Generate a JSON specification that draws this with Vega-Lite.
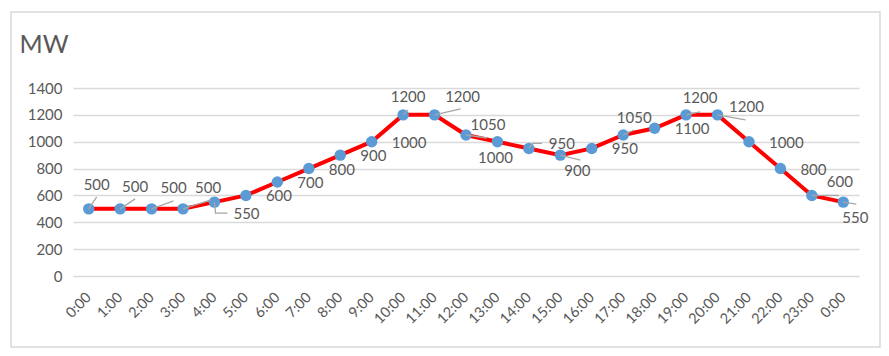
{
  "$schema": "https://vega.github.io/schema/vega-lite/v6.json",
  "width": 869,
  "height": 335,
  "autosize": "none",
  "padding": {"left": 11, "top": 12, "right": 9, "bottom": 9},
  "background": "white",
  "config": {
    "view": {"stroke": "#d9d9d9", "strokeWidth": 1.5},
    "font": "Lato",
    "text": {"font": "Lato", "fontSize": 15, "color": "#595959", "baseline": "middle", "align": "center"}
  },
  "data": {
    "values": [
      {"i": 0, "v": 500}, {"i": 1, "v": 500}, {"i": 2, "v": 500}, {"i": 3, "v": 500},
      {"i": 4, "v": 550}, {"i": 5, "v": 600}, {"i": 6, "v": 700}, {"i": 7, "v": 800},
      {"i": 8, "v": 900}, {"i": 9, "v": 1000}, {"i": 10, "v": 1200}, {"i": 11, "v": 1200},
      {"i": 12, "v": 1050}, {"i": 13, "v": 1000}, {"i": 14, "v": 950}, {"i": 15, "v": 900},
      {"i": 16, "v": 950}, {"i": 17, "v": 1050}, {"i": 18, "v": 1100}, {"i": 19, "v": 1200},
      {"i": 20, "v": 1200}, {"i": 21, "v": 1000}, {"i": 22, "v": 800}, {"i": 23, "v": 600},
      {"i": 24, "v": 550}
    ]
  },
  "encoding": {
    "x": {
      "field": "i", "type": "ordinal",
      "scale": {"type": "point", "range": [62, 848], "padding": 0.5},
      "axis": {
        "title": null, "labelAngle": -45, "labelAlign": "right", "labelBaseline": "middle",
        "labelFontSize": 14.5, "labelColor": "#595959", "labelFont": "Lato",
        "labelExpr": "(datum.value % 24) + ':00'",
        "offset": -71, "domain": false, "ticks": false, "tickSize": 0, "labelPadding": 19, "grid": false
      }
    },
    "y": {
      "field": "v", "type": "quantitative",
      "scale": {"domain": [0, 1400], "range": [264, 76], "nice": false},
      "axis": {
        "title": "MW", "titleAngle": 0, "titleFontSize": 25, "titleFontWeight": "normal",
        "titleColor": "#595959", "titleFont": "Lato", "titleAlign": "left", "titleBaseline": "alphabetic",
        "titleX": -54, "titleY": 40, "format": "d",
        "offset": -62, "domain": false, "ticks": false, "tickSize": 0, "labelPadding": 11,
        "labelFontSize": 15, "labelColor": "#595959", "labelFont": "Lato",
        "grid": true, "gridColor": "#d9d9d9", "gridWidth": 1.3,
        "values": [0, 200, 400, 600, 800, 1000, 1200, 1400]
      }
    }
  },
  "layer": [
    {"mark": {"type": "line", "color": "#ff0000", "strokeWidth": 4}},
    {"mark": {"type": "circle", "color": "#5b9bd5", "size": 130, "opacity": 1}},
    {
      "transform": [{"filter": "indexof([0,1,2,3,4,10,11,12,14,15,17,19,20,23,24], datum.i) >= 0"}],
      "mark": {"type": "point", "filled": false, "stroke": "#a6a6a6", "strokeWidth": 1.3, "size": 4, "opacity": 1},
      "encoding": {
        "shape": {
          "condition": [
            {"test": "datum.i == 0", "value": "M0,0L8,-12"},
            {"test": "datum.i == 1", "value": "M0,0L15,-10"},
            {"test": "datum.i == 2", "value": "M0,0L22,-8"},
            {"test": "datum.i == 3", "value": "M0,0L28,-9"},
            {"test": "datum.i == 4", "value": "M0,0L1,11L13,11"},
            {"test": "datum.i == 10", "value": "M0,0L5,-5"},
            {"test": "datum.i == 11", "value": "M0,0L26,-6"},
            {"test": "datum.i == 12", "value": "M0,0L21,3"},
            {"test": "datum.i == 14", "value": "M0,0L4,-5L13,-5"},
            {"test": "datum.i == 15", "value": "M0,0L20,5"},
            {"test": "datum.i == 17", "value": "M0,0L11,-5"},
            {"test": "datum.i == 19", "value": "M0,0L14,-3"},
            {"test": "datum.i == 20", "value": "M0,0L28,5"},
            {"test": "datum.i == 23", "value": "M0,0L27,0"}
          ],
          "value": "M0,0L13,2"
        }
      }
    },
    {"transform": [{"filter": "indexof([5,6,7,8,9,16,18,21,22], datum.i) >= 0"}], "mark": {"type": "text", "align": "left", "dx": 20, "dy": 1}, "encoding": {"text": {"field": "v"}}},
    {"transform": [{"filter": "datum.i == 0"}], "mark": {"type": "text", "dx": 8, "dy": -24}, "encoding": {"text": {"field": "v"}}},
    {"transform": [{"filter": "datum.i == 1"}], "mark": {"type": "text", "dx": 15, "dy": -22}, "encoding": {"text": {"field": "v"}}},
    {"transform": [{"filter": "datum.i == 2"}], "mark": {"type": "text", "dx": 22, "dy": -21}, "encoding": {"text": {"field": "v"}}},
    {"transform": [{"filter": "datum.i == 3"}], "mark": {"type": "text", "dx": 25, "dy": -21}, "encoding": {"text": {"field": "v"}}},
    {"transform": [{"filter": "datum.i == 4"}], "mark": {"type": "text", "dx": 32, "dy": 12}, "encoding": {"text": {"field": "v"}}},
    {"transform": [{"filter": "datum.i == 10"}], "mark": {"type": "text", "dx": 5, "dy": -18}, "encoding": {"text": {"field": "v"}}},
    {"transform": [{"filter": "datum.i == 11"}], "mark": {"type": "text", "dx": 28, "dy": -18}, "encoding": {"text": {"field": "v"}}},
    {"transform": [{"filter": "datum.i == 12"}], "mark": {"type": "text", "dx": 22, "dy": -10}, "encoding": {"text": {"field": "v"}}},
    {"transform": [{"filter": "datum.i == 13"}], "mark": {"type": "text", "dx": -2, "dy": 16}, "encoding": {"text": {"field": "v"}}},
    {"transform": [{"filter": "datum.i == 14"}], "mark": {"type": "text", "dx": 33, "dy": -4}, "encoding": {"text": {"field": "v"}}},
    {"transform": [{"filter": "datum.i == 15"}], "mark": {"type": "text", "dx": 17, "dy": 16}, "encoding": {"text": {"field": "v"}}},
    {"transform": [{"filter": "datum.i == 17"}], "mark": {"type": "text", "dx": 11, "dy": -17}, "encoding": {"text": {"field": "v"}}},
    {"transform": [{"filter": "datum.i == 19"}], "mark": {"type": "text", "dx": 14, "dy": -17}, "encoding": {"text": {"field": "v"}}},
    {"transform": [{"filter": "datum.i == 20"}], "mark": {"type": "text", "dx": 29, "dy": -8}, "encoding": {"text": {"field": "v"}}},
    {"transform": [{"filter": "datum.i == 23"}], "mark": {"type": "text", "dx": 28, "dy": -13}, "encoding": {"text": {"field": "v"}}},
    {"transform": [{"filter": "datum.i == 24"}], "mark": {"type": "text", "dx": 12, "dy": 16}, "encoding": {"text": {"field": "v"}}}
  ]
}
